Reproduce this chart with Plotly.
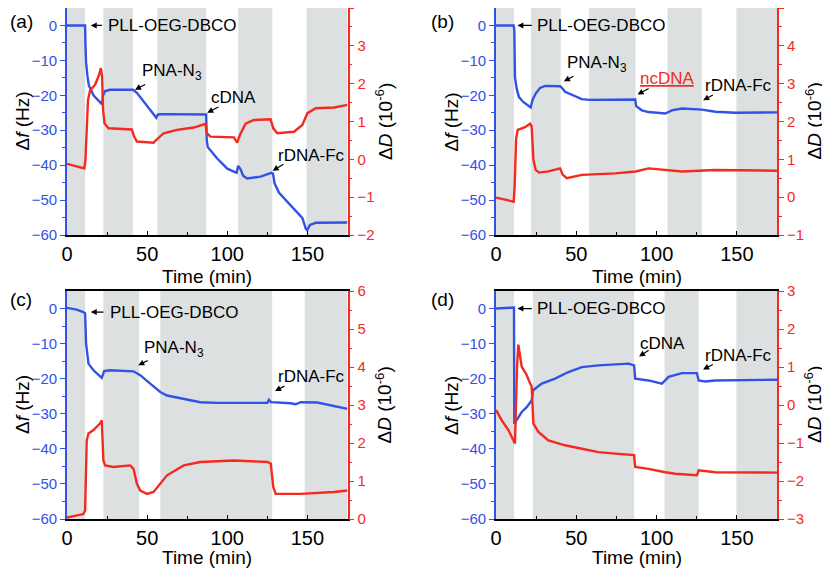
import plotly.graph_objects as go

# ---------------- data ----------------
# Panel (a)
ta_f = [0, 10.8, 11.3, 11.5, 11.9, 12.7, 13.6, 16.5, 20.7, 21.9, 22.5, 23.8, 26.9, 41.1, 43.6, 45.7, 49.9, 54, 55.7,
        56.7, 60.3, 86.8, 87.2, 87.8, 90.5, 93.7, 100, 104.1, 105.8, 106.8, 108.3, 109.9, 112.4, 120.8, 127.5, 128.5,
        129.5, 132.3, 137.5, 142.7, 146.9, 148.9, 149.8, 151.6, 155.2, 175]
fa = [0, 0, 0, -5.2, -10.5, -14.3, -17.1, -20, -21.9, -22.6, -20, -18.8, -18.4, -18.4, -19.3, -20.5, -23.1, -25.5, -26.4,
      -25.5, -25.4, -25.5, -32.9, -34.8, -36.2, -38.1, -41, -41.9, -42.2, -40.2, -41.2, -43, -43.8, -43.3, -42.2, -42.4,
      -45.2, -47.9, -50.5, -52.9, -55.2, -58.1, -58.6, -57.1, -56.5, -56.4]
ta_d = [0, 6, 10.8, 11.5, 12.3, 13.1, 14.4, 17.5, 20, 21.1, 21.9, 22.5, 23.4, 25.9, 40.4, 41.9, 43.6, 54, 56.1, 60.3,
        68.6, 79.1, 86.4, 87.2, 89.5, 104.1, 106.2, 107.8, 111.4, 116.6, 127, 128.7, 131.2, 141.6, 146.8, 150, 155.2,
        166.7, 175]
da = [-0.12, -0.19, -0.24, -0.02, 0.69, 1.57, 1.82, 1.97, 2.23, 2.41, 2.19, 1.31, 0.95, 0.82, 0.79, 0.6, 0.47, 0.44,
      0.53, 0.69, 0.78, 0.84, 0.94, 0.69, 0.6, 0.58, 0.44, 0.64, 0.94, 1.04, 1.06, 0.82, 0.69, 0.73, 0.91, 1.22, 1.35,
      1.37, 1.44]

# Panel (b)
tb_f = [0, 11, 11.4, 11.8, 12.9, 14.3, 17, 20.2, 21.6, 22.7, 24.7, 27.4, 30.6, 39.9, 40.9, 43, 48.2, 53.4, 58, 86.7,
        87.3, 90.8, 95, 105.4, 109.5, 115.8, 128.2, 136.6, 149, 175]
fb = [0, 0, -1.4, -14.8, -18.1, -20.5, -21.9, -23.1, -23.5, -21.4, -19.5, -17.9, -17.3, -17.4, -17.8, -19, -20, -21.1,
      -21.3, -21.2, -23.1, -24.3, -24.8, -25.2, -24.3, -23.8, -24.1, -24.7, -25, -24.9]
tb_d = [0, 11, 11.6, 12.5, 13.5, 18.1, 21.2, 22.2, 23.3, 24.7, 26.8, 32.6, 39.9, 41.6, 44.1, 53.4, 74.2, 86.9, 95,
        107.5, 115.8, 136.6, 175]
db = [-0.01, -0.12, 0.28, 1.52, 1.78, 1.85, 1.94, 1.87, 0.99, 0.72, 0.65, 0.68, 0.76, 0.59, 0.5, 0.59, 0.63, 0.68,
      0.76, 0.72, 0.68, 0.72, 0.7]

# Panel (c)
tc_f = [0, 6, 10.2, 11.3, 11.9, 13.4, 16.5, 19.6, 21.7, 23.2, 26.9, 41.5, 45.7, 51.9, 58.2, 62.4, 72.8, 83.2, 93.7,
        125, 126, 127.4, 139.5, 142.7, 145.8, 156.2, 175]
fc = [0.2, -0.3, -1, -1.4, -10, -15.7, -17.6, -19, -19.8, -17.8, -17.6, -17.9, -19, -21.4, -23.8, -24.8, -25.7,
      -26.7, -26.9, -26.9, -26, -26.7, -27, -27.3, -26.7, -26.8, -28.6]
tc_d = [0, 10.2, 11.3, 12.3, 13.4, 16.5, 20.7, 21.7, 22.7, 23.8, 29, 39.4, 41.5, 43.6, 45.7, 49.9, 54, 58.2, 62.4,
        72.8, 83.2, 104.1, 125, 127.1, 128.7, 130.2, 145.8, 166.7, 175]
dc = [0.04, 0.13, 0.22, 2.07, 2.25, 2.34, 2.52, 2.6, 1.54, 1.41, 1.37, 1.41, 1.32, 0.93, 0.75, 0.66, 0.71, 0.93, 1.15,
      1.41, 1.5, 1.54, 1.5, 1.46, 0.84, 0.66, 0.66, 0.71, 0.75]

# Panel (d)
td_f = [0, 11.2, 11.4, 13.9, 16, 19.1, 22.2, 23.1, 24.3, 28.5, 36.8, 45.1, 53.4, 63.8, 82.5, 86, 86.7, 95, 103.3,
        107.5, 115.8, 125.1, 126.2, 130.3, 136.6, 175]
fd = [0, 0.3, -32.9, -31, -29.5, -28.1, -26.2, -23.3, -22.9, -21.4, -20, -18.1, -16.7, -16.2, -15.7, -16.2, -20,
      -20.5, -21.4, -19.5, -18.4, -18.4, -20.5, -20.8, -20.5, -20.3]
td_d = [0, 3.5, 7.7, 11.2, 11.8, 13.1, 13.9, 16, 19.1, 21.2, 22.2, 23.3, 26.4, 32.6, 43, 53.4, 63.8, 74.2, 86, 86.7,
        95, 105.4, 111.6, 125.1, 126.2, 136.6, 175]
dd = [-0.13, -0.4, -0.66, -1, -1.01, 1.01, 1.59, 1.01, 0.79, 0.57, 0.49, -0.49, -0.71, -0.93, -1.06, -1.15, -1.24,
      -1.28, -1.32, -1.63, -1.68, -1.77, -1.81, -1.85, -1.72, -1.77, -1.78]

# Shaded injection intervals (min)
bands_a = [(0, 11.3), (22.7, 41.1), (56.3, 86.8), (106.8, 128.1), (149.4, 175)]
bands_b = [(0, 11.2), (21.8, 40.3), (58, 86.9), (106.8, 128.2), (149.7, 175)]
bands_c = [(0, 11.3), (22.7, 45), (58.2, 128), (148.3, 175)]
bands_d = [(0, 11.2), (23, 86), (105, 126.2), (149.7, 175)]

# Right-axis ranges
d_ranges = [[-2, 4], [-1, 5], [0, 6], [-3, 3]]
panel_labels = ["(a)", "(b)", "(c)", "(d)"]

# ---------------- styling ----------------
BLUE = "#3252e6"
RED = "#f42a1f"
BAND = "#dde0e0"
FONT = "Liberation Sans, Arial, sans-serif"
OX, OY = 8, 8            # page offset of the figure (default body margin)
W, H = 822, 561          # figure size so that it fills the 830x569 window

# pixel geometry of plot areas in window pixels (left, right, top, bottom)
boxes = [(67, 347.5, 8, 235), (496, 777, 8, 235), (67, 347.5, 291, 519), (496, 777, 291, 519)]
title_dy = [41, 41, 38, 38]
label_y = [21, 21, 299, 299]

panels = [
    (ta_f, fa, ta_d, da, bands_a),
    (tb_f, fb, tb_d, db, bands_b),
    (tc_f, fc, tc_d, dc, bands_c),
    (td_f, fd, td_d, dd, bands_d),
]


def px(x, y):
    fx = min(max((x - OX) / W, 0.0), 1.0)
    fy = min(max(1 - (y - OY) / H, 0.0), 1.0)
    return fx, fy


fig = go.Figure()
layout = dict(width=W, height=H, autosize=False, margin=dict(l=0, r=0, t=0, b=0, pad=0, autoexpand=False),
              paper_bgcolor="white", plot_bgcolor="white",
              showlegend=False, font=dict(family=FONT, color="black"))
shapes = []
annotations = []

for i, (tf, fv, tdd, dv, bands) in enumerate(panels):
    n = i + 1
    xname = "x" if n == 1 else f"x{n}"
    yl = 2 * n - 1
    yr = 2 * n
    ylname = "y" if yl == 1 else f"y{yl}"
    yrname = f"y{yr}"
    L, R, T, B = boxes[i]
    x0p, y1p = px(L, T)
    x1p, y0p = px(R, B)
    xdom = [x0p, x1p]
    ydom = [y0p, y1p]

    fig.add_trace(go.Scatter(x=tdd, y=dv, mode="lines", line=dict(color=RED, width=2.4),
                             xaxis=xname, yaxis=yrname, hoverinfo="skip"))
    fig.add_trace(go.Scatter(x=tf, y=fv, mode="lines", line=dict(color=BLUE, width=2.4),
                             xaxis=xname, yaxis=ylname, hoverinfo="skip"))

    xkey = "xaxis" if n == 1 else f"xaxis{n}"
    ylkey = "yaxis" if yl == 1 else f"yaxis{yl}"
    yrkey = f"yaxis{yr}"
    layout[xkey] = dict(domain=xdom, anchor=ylname, range=[0, 175], dtick=50, tick0=0, showgrid=False,
                        automargin=False,
                        zeroline=False, showline=True, linecolor="black", linewidth=1.5, mirror=True,
                        ticks="inside", ticklen=4, tickcolor="black", tickwidth=1.2,
                        tickfont=dict(size=20, color="black", family=FONT),
                        minor=dict(dtick=25, ticks="inside", ticklen=3, tickcolor="black", showgrid=False))
    layout[ylkey] = dict(domain=ydom, anchor=xname, range=[-60, 5], tickvals=[0, -10, -20, -30, -40, -50, -60],
                         automargin=False,
                         showgrid=False, zeroline=False, showline=True, linecolor=BLUE, linewidth=1.8,
                         ticks="outside", ticklen=5, tickcolor=BLUE, tickwidth=1.2,
                         tickfont=dict(size=15, color=BLUE, family=FONT),
                         minor=dict(tickvals=[-5, -15, -25, -35, -45, -55], ticks="outside", ticklen=3,
                                    tickcolor=BLUE, showgrid=False))
    r0, r1 = d_ranges[i]
    layout[yrkey] = dict(domain=ydom, anchor=xname, overlaying=ylname, side="right", range=[r0, r1],
                         automargin=False,
                         dtick=1, tick0=0, showgrid=False, zeroline=False, showline=True, linecolor=RED,
                         linewidth=1.8, ticks="outside", ticklen=5, tickcolor=RED, tickwidth=1.2,
                         tickfont=dict(size=15, color=RED, family=FONT),
                         minor=dict(dtick=0.5, ticks="outside", ticklen=3, tickcolor=RED, showgrid=False))

    for (b0, b1) in bands:
        shapes.append(dict(type="rect", xref=xname, yref=f"{ylname} domain", x0=b0, x1=b1, y0=0, y1=1,
                           fillcolor=BAND, line=dict(width=0), layer="below"))

    cy = (T + B) / 2
    ax_, ay_ = px(L - 45, cy)
    annotations.append(dict(xref="paper", yref="paper", x=ax_, y=ay_,
                            text="Δ<i>f</i> (Hz)", textangle=-90, showarrow=False,
                            font=dict(size=19, color="black", family=FONT), xanchor="center", yanchor="middle"))
    ax_, ay_ = px(R + 36, cy)
    annotations.append(dict(xref="paper", yref="paper", x=ax_, y=ay_,
                            text="Δ<i>D</i> (10<sup>-6</sup>)", textangle=-90, showarrow=False,
                            font=dict(size=19, color="black", family=FONT), xanchor="center", yanchor="middle"))
    ax_, ay_ = px((L + R) / 2, B + title_dy[i])
    annotations.append(dict(xref="paper", yref="paper", x=ax_, y=ay_,
                            text="Time (min)", showarrow=False,
                            font=dict(size=19, color="black", family=FONT), xanchor="center", yanchor="middle"))
    ax_, ay_ = px(max(L - 67, OX), label_y[i])
    annotations.append(dict(xref="paper", yref="paper", x=ax_, y=ay_,
                            text=panel_labels[i], showarrow=False,
                            font=dict(size=19, color="black", family=FONT), xanchor="left", yanchor="middle"))

layout["shapes"] = shapes


def label(ax_i, t, f, text, color="black"):
    n = ax_i + 1
    xname = "x" if n == 1 else f"x{n}"
    ylname = "y" if n == 1 else f"y{2 * n - 1}"
    annotations.append(dict(xref=xname, yref=ylname, x=t, y=f, text=text, showarrow=False,
                            xanchor="left", yanchor="middle", font=dict(size=17, color=color, family=FONT)))


def arrow(ax_i, t_head, f_head, t_tail, f_tail):
    n = ax_i + 1
    xname = "x" if n == 1 else f"x{n}"
    ylname = "y" if n == 1 else f"y{2 * n - 1}"
    annotations.append(dict(xref=xname, yref=ylname, x=t_head, y=f_head, axref=xname, ayref=ylname,
                            ax=t_tail, ay=f_tail, text="", showarrow=True, arrowhead=2, arrowsize=1,
                            arrowwidth=1.2, arrowcolor="black"))


# (a)
label(0, 24.3, 0, "PLL-OEG-DBCO"); arrow(0, 14.8, 0, 22.7, 0)
label(0, 45.5, -13.3, "PNA-N<sub>3</sub>"); arrow(0, 42.4, -18.4, 49.7, -16.7)
label(0, 88.6, -20.5, "cDNA"); arrow(0, 87.5, -25, 95.4, -23.1)
label(0, 130.4, -37.1, "rDNA-Fc"); arrow(0, 128.3, -41.6, 136, -39.5)
# (b)
label(1, 24.3, 0, "PLL-OEG-DBCO"); arrow(1, 13.3, 0, 23.2, 0)
label(1, 43, -10.9, "PNA-N<sub>3</sub>"); arrow(1, 42.3, -16, 49.2, -14.3)
label(1, 88.2, -15.2, "<u>ncDNA</u>", RED); arrow(1, 88.2, -19.8, 96, -17.8)
label(1, 129, -17.1, "rDNA-Fc"); arrow(1, 129, -21.4, 136, -19.7)
# (c)
label(2, 25.8, -1, "PLL-OEG-DBCO"); arrow(2, 14.8, -1, 23.7, -1)
label(2, 46.6, -11.4, "PNA-N<sub>3</sub>"); arrow(2, 44.5, -16.2, 51.3, -14.6)
label(2, 130.4, -19.3, "rDNA-Fc"); arrow(2, 129.8, -23.5, 136.6, -21.9)
# (d)
label(3, 24.3, 0, "PLL-OEG-DBCO"); arrow(3, 13.3, 0, 23.2, 0)
label(3, 88.6, -10, "cDNA"); arrow(3, 89.1, -13.7, 96, -11.6)
label(3, 129, -13.3, "rDNA-Fc"); arrow(3, 129, -17.4, 136, -15.7)

layout["annotations"] = annotations
fig.update_layout(**layout)
fig.write_html("out.html")
